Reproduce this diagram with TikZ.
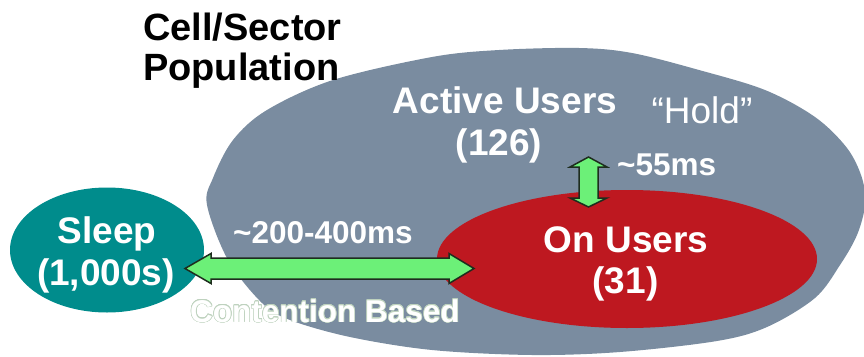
\documentclass[tikz,border=0pt]{standalone}
\usepackage{fontspec}
\setmainfont{Liberation Sans}
\usepackage{contour}
\usetikzlibrary{calc,shapes.geometric}
\definecolor{cellgray}{RGB}{122,140,160}
\definecolor{onred}{RGB}{190,24,32}
\definecolor{sleepteal}{RGB}{0,140,140}
\definecolor{arrowgreen}{RGB}{108,240,120}
\definecolor{arrowedge}{RGB}{30,45,30}
\definecolor{halo}{RGB}{190,210,190}
\contourlength{0.6pt}
\contournumber{16}
\begin{document}
\begin{tikzpicture}[x=1pt,y=-1pt,
  titletext/.style={text=black,font=\bfseries\fontsize{38}{42}\selectfont,inner sep=0pt},
  biglbl/.style={text=white,font=\bfseries\fontsize{37}{42}\selectfont,inner sep=0pt},
  holdlbl/.style={text=white,font=\fontsize{37}{42}\selectfont,inner sep=0pt},
  smalllbl/.style={text=white,font=\bfseries\fontsize{31.5}{36}\selectfont,inner sep=0pt},
  blob/.style={ellipse,inner sep=0pt,draw=none},
  blockarrow/.style={fill=arrowgreen,draw=arrowedge,line width=1.5pt,line join=miter}]
\useasboundingbox (0,0) rectangle (864,356);
% cell/sector population
\fill[cellgray] plot[smooth cycle,tension=0.55] coordinates {
  (207,205) (213,178) (233,140) (267,110) (333,80) (432,57) (499,50) (579,48)
  (632,53) (699,70) (765,90) (815,117) (847,148) (862,178) (865,205) (857,235)
  (840,265) (815,298) (767,327) (717,341) (620,352) (532,355) (432,350) (350,337)
  (290,320) (262,303) (228,260)};
\node[blob,fill=onred,minimum width=380pt,minimum height=138pt] (on) at (627,259) {};
\node[blob,fill=sleepteal,minimum width=194pt,minimum height=125pt] (sleep) at (107,250) {};
% connectors
\coordinate (hl) at (185,268.5);
\coordinate (hr) at (474,268.5);
\draw[blockarrow] (hl) -- ($(hl)+(26,-15)$) -- ($(hl)+(26,-10.5)$) -- ($(hr)+(-25,-10.5)$)
  -- ($(hr)+(-25,-15)$) -- (hr) -- ($(hr)+(-25,15)$) -- ($(hr)+(-25,10.5)$)
  -- ($(hl)+(26,10.5)$) -- ($(hl)+(26,15)$) -- cycle;
\coordinate (vt) at (588.5,157);
\coordinate (vb) at (588.5,207);
\draw[blockarrow] (vt) -- ($(vt)+(18.5,10)$) -- ($(vt)+(9.5,10)$) -- ($(vb)+(9.5,-9)$)
  -- ($(vb)+(18.5,-9)$) -- (vb) -- ($(vb)+(-18.5,-9)$) -- ($(vb)+(-9.5,-9)$)
  -- ($(vt)+(-9.5,10)$) -- ($(vt)+(-18.5,10)$) -- cycle;
% texts
\node[titletext,anchor=base west] (title1) at (143,40) {Cell/Sector};
\node[titletext,anchor=base west] (title2) at (143,80) {Population};
\node[biglbl,anchor=base] (act1) at (505,113) {Active Users};
\node[biglbl,anchor=base] (act2) at (499,155) {(126)};
\node[holdlbl,anchor=base] (hold) at (702,123) {“Hold”};
\node[smalllbl,anchor=base west] (t55) at (617,175) {\textasciitilde55ms};
\node[smalllbl,anchor=base west] (t200) at (233,243) {\textasciitilde200-400ms};
\node[smalllbl,anchor=base west] (cb) at (190,322) {\contour{halo}{Contention Based}};
\node[biglbl,anchor=base] (sl1) at (107,243) {Sleep};
\node[biglbl,anchor=base] (sl2) at (106,285) {(1,000s)};
\node[biglbl,anchor=base] (on1) at (626,252) {On Users};
\node[biglbl,anchor=base] (on2) at (625.5,293) {(31)};
\end{tikzpicture}
\end{document}
